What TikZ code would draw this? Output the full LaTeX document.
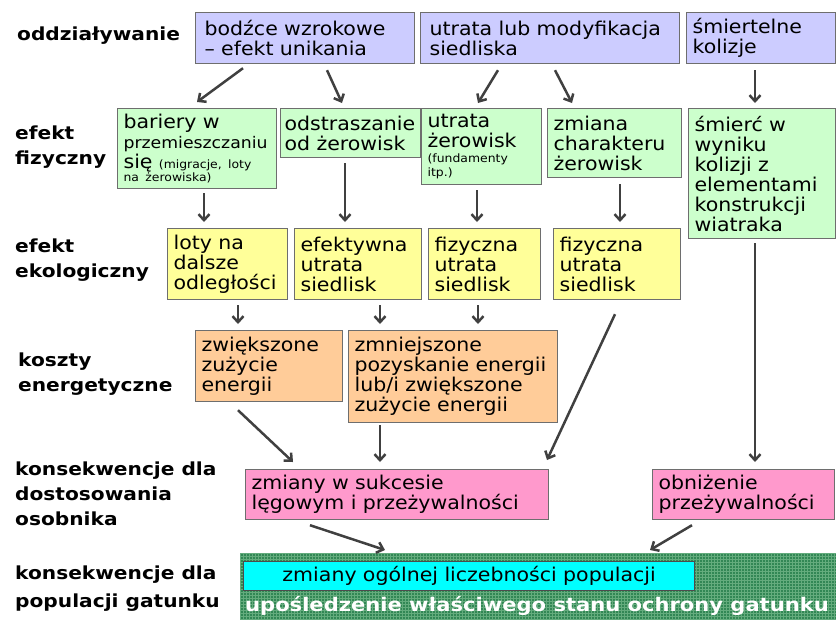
\documentclass[tikz,border=0pt]{standalone}
\usepackage{fontspec}
\usepackage{tikz}
\usetikzlibrary{arrows.meta,patterns}

\newfontfamily\boxfont{DejaVu Sans}[FakeStretch=1.08]
\newfontfamily\lblfont{DejaVu Sans}[FakeStretch=1.12]
\newcommand{\midtxt}{\fontsize{16}{18}\selectfont}
\newcommand{\tinytxt}{\fontsize{11.5}{12}\selectfont}

\definecolor{topblue}{RGB}{204,204,255}
\definecolor{physgreen}{RGB}{204,255,204}
\definecolor{ecoyellow}{RGB}{255,255,153}
\definecolor{costorange}{RGB}{255,204,153}
\definecolor{fitpink}{RGB}{255,153,204}
\definecolor{popcyan}{RGB}{0,255,255}
\definecolor{bandgreen}{RGB}{50,135,85}
\definecolor{gridgreen}{RGB}{100,172,125}
\definecolor{arrowgray}{RGB}{64,64,64}
\definecolor{edgegray}{RGB}{110,110,110}

\begin{document}
\begin{tikzpicture}[
            x=1pt, y=-1pt,
            box/.style={
                draw=edgegray,
                line width=1.2pt,
                anchor=north west,
                align=left,
                inner xsep=6pt,
                inner ysep=3pt,
                font=\boxfont\fontsize{19}{20}\selectfont
            },
            lbl/.style={anchor=north west, inner sep=0pt, align=left,
                font=\lblfont\bfseries\fontsize{18}{25}\selectfont},
            arrow/.style={-{Straight Barb[length=6pt,width=11pt]}, line width=2.5pt, draw=arrowgray}
        ]
            \useasboundingbox (0,0) rectangle (836,619);

            % etykiety poziomow
            \node[lbl] (l-odd) at (17,27) {oddziaływanie};
            \node[lbl] (l-fiz) at (15,126) {efekt\\fizyczny};
            \node[lbl] (l-eko) at (15,239) {efekt\\ekologiczny};
            \node[lbl] (l-kosz) at (18,353) {koszty\\energetyczne};
            \node[lbl] (l-osob) at (15,462) {konsekwencje dla\\dostosowania\\osobnika};
            \node[lbl] (l-pop) at (15,566) {konsekwencje dla\\[3pt]populacji gatunku};

            % oddzialywanie
            \node[box, fill=topblue, inner xsep=9pt, text width=201pt, minimum height=51pt] (bodzce) at (195,12) {bodźce wzrokowe\\– efekt unikania};
            \node[box, fill=topblue, inner xsep=9pt, text width=241pt, minimum height=51pt] (utrata) at (420,12) {utrata lub modyfikacja\\siedliska};
            \node[box, fill=topblue, text width=137pt, minimum height=51pt] (smiert) at (686,12) {śmiertelne\\kolizje};

            % efekt fizyczny
            \node[box, fill=physgreen, text width=147pt, minimum height=80pt] (bariery) at (117,108)
                {bariery w\\{\midtxt przemieszczaniu}\\się {\tinytxt (migracje, loty}\\[-7pt]{\tinytxt na żerowiska)}};
            \node[box, fill=physgreen, inner xsep=4pt, text width=132pt, minimum height=49pt] (odstr) at (280,108) {odstraszanie\\od żerowisk};
            \node[box, fill=physgreen, text width=108pt, minimum height=76pt] (utrzer) at (421,108)
                {utrata\\żerowisk\\[-5pt]{\tinytxt (fundamenty}\\[-6pt]{\tinytxt itp.)}};
            \node[box, fill=physgreen, text width=122pt, minimum height=69pt] (zmiana) at (547,108) {zmiana\\charakteru\\żerowisk};
            \node[box, fill=physgreen, text width=135pt, minimum height=130pt] (smierc) at (688,108)
                {śmierć w\\wyniku\\kolizji z\\elementami\\konstrukcji\\wiatraka};

            % efekt ekologiczny
            \node[box, fill=ecoyellow, text width=108pt, minimum height=71pt] (loty) at (167,228) {loty na\\dalsze\\odległości};
            \node[box, fill=ecoyellow, text width=115pt, minimum height=71pt] (efekt) at (294,228) {efektywna\\utrata\\siedlisk};
            \node[box, fill=ecoyellow, text width=100pt, minimum height=71pt] (fiz1) at (428,228) {fizyczna\\utrata\\siedlisk};
            \node[box, fill=ecoyellow, text width=115pt, minimum height=71pt] (fiz2) at (553,228) {fizyczna\\utrata\\siedlisk};

            % koszty energetyczne
            \node[box, fill=costorange, text width=135pt, minimum height=71pt] (zwiek) at (195,330) {zwiększone\\zużycie\\energii};
            \node[box, fill=costorange, text width=197pt, minimum height=92pt] (zmniej) at (348,330)
                {zmniejszone\\pozyskanie energii\\lub/i zwiększone\\zużycie energii};

            % osobnik
            \node[box, fill=fitpink, text width=291pt, minimum height=50pt] (zmiany) at (245,469) {zmiany w sukcesie\\lęgowym i przeżywalności};
            \node[box, fill=fitpink, text width=170pt, minimum height=50pt] (obniz) at (652,469) {obniżenie\\przeżywalności};

            % populacja
            \node[anchor=north west, inner sep=0pt, minimum width=596pt, minimum height=66pt,
                preaction={fill=bandgreen}, pattern=grid, pattern color=gridgreen] (band) at (240,553) {};
            \node[box, fill=popcyan, draw=black!70, align=center, text width=439pt, minimum height=29pt, inner ysep=1pt] (pop) at (243,561)
                {zmiany ogólnej liczebności populacji};
            \node[anchor=base west, inner sep=0pt, text=white, font=\lblfont\bfseries\fontsize{18.8}{20}\selectfont] (upos) at (245,611)
                {upośledzenie właściwego stanu ochrony gatunku};

            % strzalki
            \draw[arrow] ([shift={(48,4)}]bodzce.south west) -- ([shift={(80,-6)}]bariery.north west);
            \draw[arrow] ([shift={(132,6)}]bodzce.south west) -- ([shift={(62,-5)}]odstr.north west);
            \draw[arrow] ([shift={(78,6)}]utrata.south west) -- ([shift={(57,-5)}]utrzer.north west);
            \draw[arrow] ([shift={(135,6)}]utrata.south west) -- ([shift={(25,-5)}]zmiana.north west);
            \draw[arrow] ([shift={(69,6)}]smiert.south west) -- ([shift={(67,-5)}]smierc.north west);
            \draw[arrow] ([shift={(87,4)}]bariery.south west) -- ([shift={(37,-6)}]loty.north west);
            \draw[arrow] ([shift={(65,5)}]odstr.south west) -- ([shift={(51,-6)}]efekt.north west);
            \draw[arrow] ([shift={(56,5)}]utrzer.south west) -- ([shift={(49,-6)}]fiz1.north west);
            \draw[arrow] ([shift={(73,6)}]zmiana.south west) -- ([shift={(67,-6)}]fiz2.north west);
            \draw[arrow] ([shift={(71,5)}]loty.south west) -- ([shift={(43,-6)}]zwiek.north west);
            \draw[arrow] ([shift={(86,5)}]efekt.south west) -- ([shift={(32,-6)}]zmniej.north west);
            \draw[arrow] ([shift={(50,5)}]fiz1.south west) -- ([shift={(130,-6)}]zmniej.north west);
            \draw[arrow] ([shift={(62,14)}]fiz2.south west) -- ([shift={(302,-9)}]zmiany.north west);
            \draw[arrow] ([shift={(43,8)}]zwiek.south west) -- ([shift={(48,-7)}]zmiany.north west);
            \draw[arrow] ([shift={(32,2)}]zmniej.south west) -- ([shift={(135,-7)}]zmiany.north west);
            \draw[arrow] ([shift={(67,4)}]smierc.south west) -- ([shift={(103,-7)}]obniz.north west);
            \draw[arrow] ([shift={(65,5)}]zmiany.south west) -- ([shift={(145,-3)}]band.north west);
            \draw[arrow] ([shift={(40,5)}]obniz.south west) -- ([shift={(410,-3)}]band.north west);
        \end{tikzpicture}
\end{document}
